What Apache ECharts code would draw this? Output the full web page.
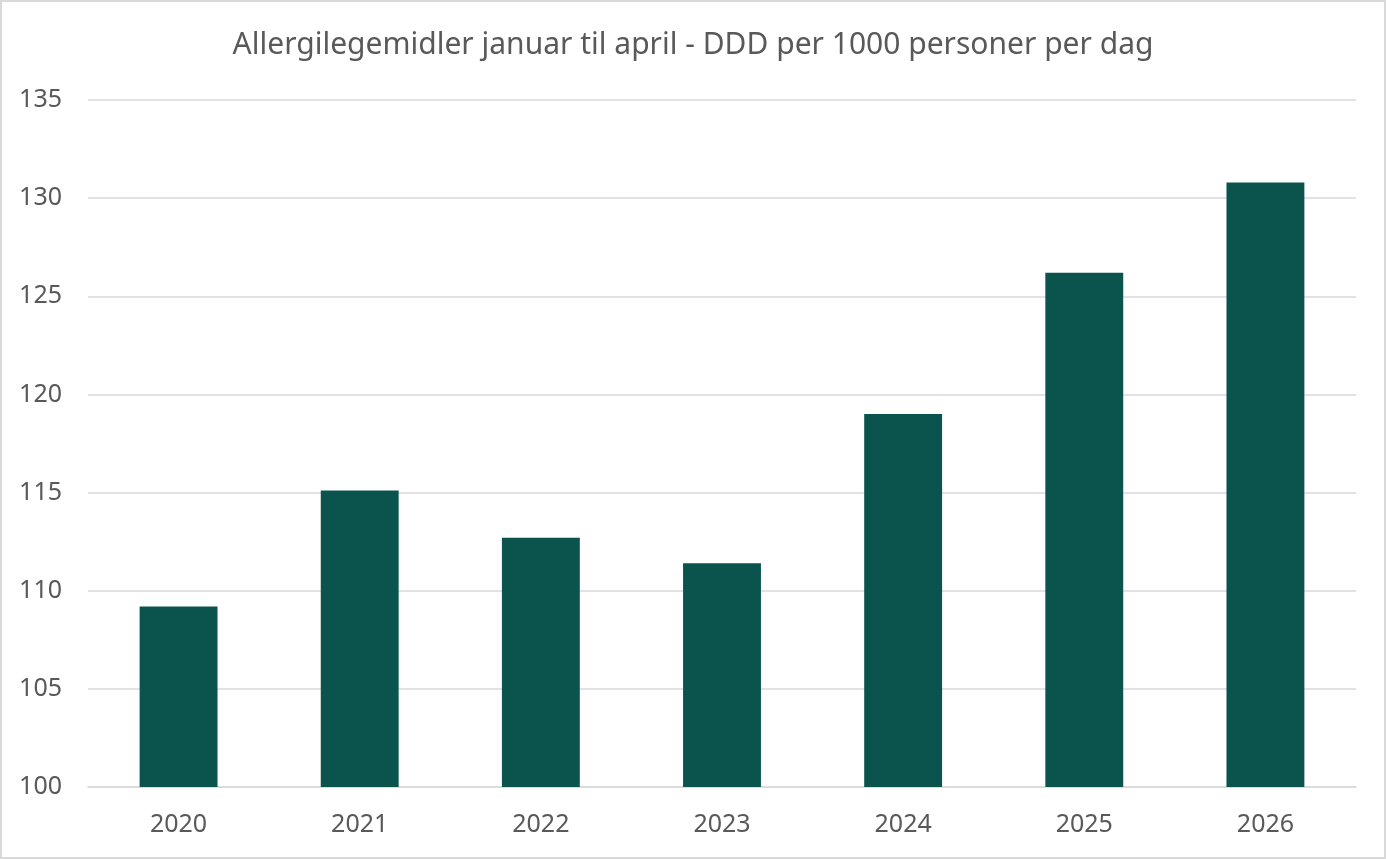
<!DOCTYPE html>
<html>
<head>
<meta charset="utf-8">
<script src="https://cdn.jsdelivr.net/npm/echarts@6/dist/echarts.min.js"></script>
<style>
  html, body { margin: 0; padding: 0; background: #fff; }
  #chart { width: 1386px; height: 859px; box-sizing: border-box; border: 2px solid #d9d9d9; }
</style>
</head>
<body>
<div id="chart"></div>
<script>
const years = ['2020', '2021', '2022', '2023', '2024', '2025', '2026'];
const ddd = [109.2, 115.1, 112.7, 111.4, 119.0, 126.2, 130.8];
const title = 'Allergilegemidler januar til april - DDD per 1000 personer per dag';

const chart = echarts.init(document.getElementById('chart'));
chart.setOption({
  animation: false,
  title: {
    text: title,
    left: 'center',
    top: 23,
    textStyle: { fontFamily: 'Noto Sans', fontSize: 30, fontWeight: 'normal', color: '#595959' }
  },
  grid: { left: 86, right: 28, top: 98, bottom: 70 },
  xAxis: {
    type: 'category',
    data: years,
    axisLine: { lineStyle: { color: '#d9d9d9', width: 1.5 } },
    axisTick: { show: false },
    axisLabel: { fontFamily: 'Noto Sans', fontSize: 25, color: '#595959', margin: 25 }
  },
  yAxis: {
    type: 'value',
    min: 100,
    max: 135,
    interval: 5,
    axisLine: { show: false },
    axisTick: { show: false },
    splitLine: { lineStyle: { color: '#d9d9d9', width: 1.5 } },
    axisLabel: { fontFamily: 'Noto Sans', fontSize: 25, color: '#595959', margin: 26 }
  },
  series: [{
    type: 'bar',
    data: ddd,
    barWidth: '43%',
    itemStyle: { color: '#0b544e' }
  }]
});
</script>
</body>
</html>
